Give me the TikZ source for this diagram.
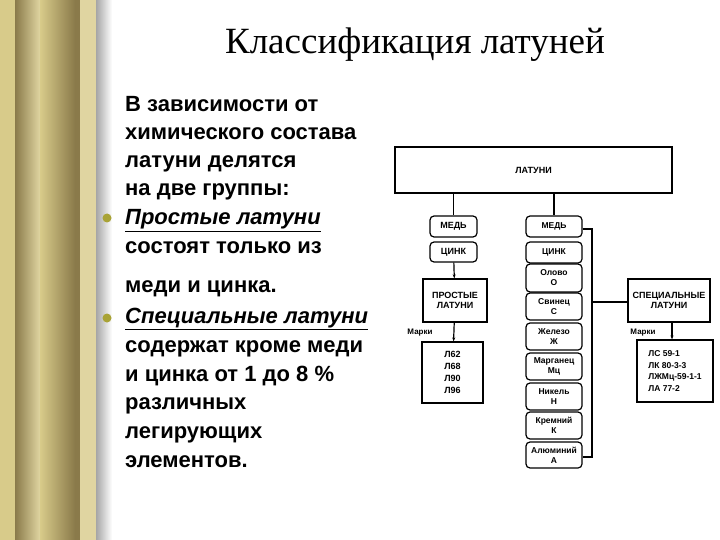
\documentclass[tikz,border=0pt]{standalone}
\usepackage{fontspec}
\setmainfont{Liberation Serif}
\setsansfont{Liberation Sans}
\usetikzlibrary{arrows.meta}
\definecolor{gold}{HTML}{D8CB8A}
\definecolor{golddark}{HTML}{8A7A4A}
\definecolor{bul}{HTML}{A9A336}
\tikzset{
 sq/.style={draw,line width=1.2pt,inner sep=0pt,font=\sffamily\bfseries\fontsize{9}{10}\selectfont,align=center},
 rd/.style={sq,rounded corners=4pt},
 ln/.style={line width=1.2pt},
 ar/.style={ln,-{Stealth[length=4pt]}},
 body/.style={anchor=base west,font=\sffamily\bfseries\fontsize{22}{22}\selectfont,inner sep=0pt}
}
\begin{document}
\begin{tikzpicture}[x=1pt,y=-1pt]
\useasboundingbox (0,0) rectangle (720,540);
\fill[white] (0,0) rectangle (720,540);
% frame
\fill[gold] (0,0) rectangle (96,540);
\shade[left color=golddark,right color=gold!80] (15,0) rectangle (40,540);
\shade[left color=gold,right color=golddark] (40,0) rectangle (75,540);
\fill[golddark] (75,0) rectangle (80,540);
\fill[gold!80] (80,0) rectangle (96,540);
\shade[left color=gray!70,right color=white] (96,0) rectangle (112,540);
\node[font=\fontsize{37}{37}\selectfont] (title) at (415,45) {Классификация латуней};
% bullets
\fill[bul] (107,218) circle (4.5) (107,318) circle (4.5);
\node[body] (t1) at (125,112) {В зависимости от};
\node[body] (t2) at (125,140) {химического состава};
\node[body] (t3) at (125,168) {латуни делятся};
\node[body] (t4) at (125,196) {на две группы:};
\node[body] (t5) at (125,225) {\underline{\itshape Простые латуни}};
\node[body] (t6) at (125,254) {состоят только из};
\node[body] (t7) at (125,292) {меди и цинка.};
\node[body] (t8) at (125,323) {\underline{\itshape Специальные латуни}};
\node[body] (t9) at (125,352) {содержат кроме меди};
\node[body] (t10) at (125,381) {и цинка от 1 до 8 \%};
\node[body] (t11) at (125,409) {различных};
\node[body] (t12) at (125,438) {легирующих};
\node[body] (t13) at (125,467) {элементов.};
% diagram
\node[sq,minimum width=277,minimum height=46] (top) at (533.5,170) {ЛАТУНИ};
\node[rd,minimum width=47,minimum height=21] (m1) at (453.5,226.5) {МЕДЬ};
\node[rd,minimum width=47,minimum height=20] (c1) at (453.5,252) {ЦИНК};
\node[sq,minimum width=64,minimum height=43] (pl) at (455,300.5) {ПРОСТЫЕ\\ЛАТУНИ};
\node[font=\sffamily\bfseries\fontsize{8}{9}\selectfont] (mk1) at (420,333) {Марки};
\node[sq,minimum width=61,minimum height=61,font=\sffamily\bfseries\fontsize{9}{12}\selectfont] (lb1) at (452.5,372.5) {Л62\\Л68\\Л90\\Л96};
\draw[ln] (top.south -| m1) -- (m1);
\draw[ar] (c1) -- (pl);
\draw[ar] (pl) -- (lb1);
\foreach \n/\t/\a/\b in {m2/МЕДЬ/216/237, c2/ЦИНК/242/263, e1/Олово\\О/264/292, e2/Свинец\\С/293/320, e3/Железо\\Ж/323/350, e4/Марганец\\Мц/353/380, e5/Никель\\Н/383/410, e6/Кремний\\К/412/439, e7/Алюминий\\А/442/468}{
 \node[rd,minimum width=56,minimum height={\b-\a},font=\sffamily\bfseries\fontsize{8.5}{10}\selectfont] (\n) at (554,{(\a+\b)/2}) {\t};
}
\draw[ln] (top.south -| m2) -- (m2);
\node[sq,minimum width=82,minimum height=43] (sl) at (669,300.5) {СПЕЦИАЛЬНЫЕ\\ЛАТУНИ};
\coordinate (b1) at (592,229);
\coordinate (b2) at (592,457);
\coordinate (b3) at (592,302);
\draw[ln] (m2.east |- b1) -- (b1) -- (b2) -- (e7.east |- b2);
\draw[ln] (b3) -- (sl.west |- b3);
\node[font=\sffamily\bfseries\fontsize{8}{9}\selectfont] (mk2) at (643,333) {Марки};
\node[sq,minimum width=76,minimum height=62,align=left,font=\sffamily\bfseries\fontsize{8.5}{11.5}\selectfont] (lb2) at (675,371) {ЛС 59-1\\ЛК 80-3-3\\ЛЖМц-59-1-1\\ЛА 77-2};
\coordinate (a1) at (672,0);
\draw[ar] (sl.south -| a1) -- (lb2.north -| a1);
\end{tikzpicture}
\end{document}
